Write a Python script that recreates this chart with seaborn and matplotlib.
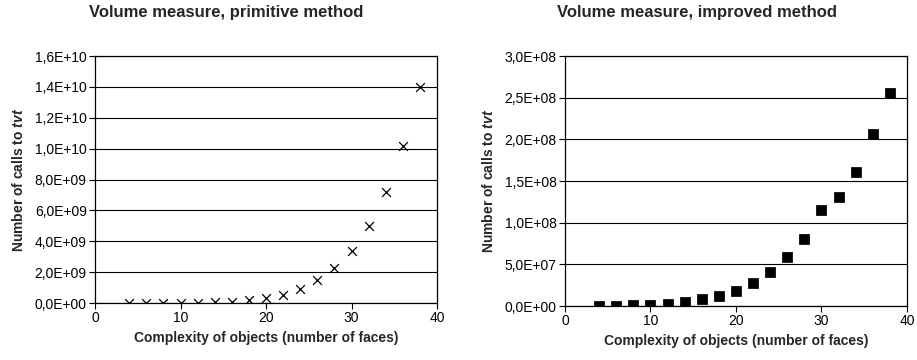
import matplotlib
matplotlib.use("Agg")
import matplotlib.pyplot as plt
import seaborn as sns
import pandas as pd
from matplotlib.ticker import FuncFormatter

faces = [4, 6, 8, 10, 12, 14, 16, 18, 20, 22, 24, 26, 28, 30, 32, 34, 36, 38]
primitive_calls = [1e6, 4e6, 1e7, 1.5e7, 2e7, 4e7, 9e7, 1.7e8, 3.0e8, 5.4e8, 9.1e8,
                   1.49e9, 2.27e9, 3.4e9, 5.0e9, 7.2e9, 1.02e10, 1.40e10]
improved_calls = [1e5, 3e5, 7e5, 1.2e6, 2.4e6, 4.8e6, 8e6, 1.16e7, 1.8e7, 2.76e7, 4.08e7,
                  5.9e7, 8.0e7, 1.15e8, 1.31e8, 1.61e8, 2.07e8, 2.56e8]

titles = ["Volume measure, primitive method", "Volume measure, improved method"]
xlabel = "Complexity of objects (number of faces)"
ylabel = r"Number of calls to $\mathit{tvt}$"

sns.set_style("white")
plt.rcParams["font.family"] = ["Liberation Sans", "DejaVu Sans"]
plt.rcParams["mathtext.fontset"] = "custom"
plt.rcParams["mathtext.it"] = "Liberation Sans:italic:bold"
plt.rcParams["mathtext.rm"] = "Liberation Sans:bold"


def excel_sci(v, pos):
    return f"{v:.1E}".replace(".", ",")


df = pd.DataFrame({"faces": faces, "primitive": primitive_calls, "improved": improved_calls})

fig = plt.figure(figsize=(9.17, 3.6), dpi=100)
ax1 = fig.add_axes([0.1036, 0.1583, 0.373, 0.686])
ax2 = fig.add_axes([0.6161, 0.15, 0.373, 0.694])

sns.scatterplot(data=df, x="faces", y="primitive", ax=ax1, marker="x", color="black",
                s=40, linewidth=0.9)
sns.scatterplot(data=df, x="faces", y="improved", ax=ax2, marker="s", color="black",
                s=45, edgecolor="black")

ax1.set_ylim(0, 1.6e10)
ax1.set_yticks([i * 2e9 for i in range(9)])
ax2.set_ylim(0, 3.0e8)
ax2.set_yticks([i * 5e7 for i in range(7)])

for ax in (ax1, ax2):
    ax.set_xlim(0, 40)
    ax.set_xticks([0, 10, 20, 30, 40])
    ax.yaxis.set_major_formatter(FuncFormatter(excel_sci))
    ax.grid(axis="y", color="black", linewidth=0.8)
    ax.set_axisbelow(True)
    for sp in ax.spines.values():
        sp.set_visible(True)
        sp.set_color("black")
        sp.set_linewidth(0.9)
    ax.tick_params(axis="both", direction="out", length=4, width=0.8, color="black",
                   labelsize=10, labelcolor="black", pad=2, left=True, bottom=True)
    ax.set_xlabel(xlabel, fontsize=10, fontweight="bold", labelpad=4)
    ax.set_ylabel(ylabel, fontsize=10, fontweight="bold", labelpad=6)

fig.text(226 / 917, 1 - 13 / 360, titles[0], ha="center", va="center",
         fontsize=12, fontweight="bold")
fig.text(697 / 917, 1 - 13 / 360, titles[1], ha="center", va="center",
         fontsize=12, fontweight="bold")

fig.savefig("out.png", dpi=100)
